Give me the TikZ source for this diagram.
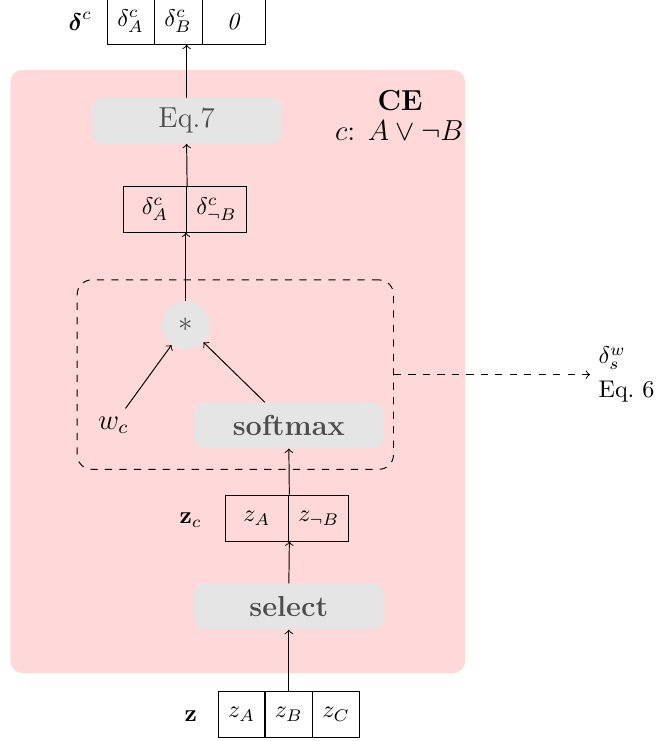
\documentclass[tikz,border=0pt]{standalone}
\usepackage{amsmath}
\usepackage{amsfonts}
\usepackage{tikz}

\begin{document}
\begin{tikzpicture}[
    cell/.style={draw,minimum height=0.67cm,inner sep=0pt},
    op/.style={fill=gray!20,rounded corners=4pt,text=black!70,font=\large,
      minimum width=2.76cm,minimum height=0.66cm}]
    \useasboundingbox (0,0) rectangle (9.72,-10.80);
    \fill[red!15,rounded corners=5pt] (0.15,-1.02) rectangle (6.78,-9.81);
    % output vector
    \node (dclab) at (1.17,-0.31) {$\boldsymbol{\delta}^c$};
    \node[cell,minimum width=0.685cm] (dcA) at (1.903,-0.31) {$\delta^c_A$};
    \node[cell,minimum width=0.70cm] (dcB) at (2.595,-0.31) {$\delta^c_B$};
    \node[cell,minimum width=0.918cm] (dc0) at (3.404,-0.31) {\textit{0}};
    % CE block
    \node[op] (eq7) at (2.72,-1.76) {Eq.7};
    \node[font=\large] (ce) at (5.83,-1.46) {\textbf{CE}};
    \node[font=\large] (rule) at (5.82,-1.90) {$c$: $A\vee\neg B$};
    \node[cell,minimum width=0.92cm] (dA) at (2.26,-3.05) {$\delta^c_A$};
    \node[cell,minimum width=0.87cm] (dnB) at (3.155,-3.05) {$\delta^c_{\neg B}$};
    \node[draw,dashed,rounded corners=6pt,minimum width=4.61cm,minimum height=2.76cm] (wbox) at (3.43,-5.46) {};
    \node[circle,fill=gray!20,text=black!70,minimum size=0.70cm,inner sep=0pt,font=\large] (mul) at (2.71,-4.74) {$*$};
    \node[font=\large] (wc) at (1.65,-6.20) {$w_c$};
    \node[op,font=\large\bfseries] (sm) at (4.21,-6.20) {softmax};
    \node[anchor=west,align=left] (out) at (8.60,-5.46) {$\delta^w_s$\\[2pt]Eq.~6};
    \node (zclab) at (2.78,-7.58) {$\mathbf{z}_c$};
    \node[cell,minimum width=0.93cm] (zcA) at (3.745,-7.55) {$z_A$};
    \node[cell,minimum width=0.87cm] (zcnB) at (4.645,-7.55) {$z_{\neg B}$};
    \node[op,font=\large\bfseries] (selct) at (4.21,-8.84) {select};
    % input vector
    \node (zlab) at (2.78,-10.44) {$\mathbf{z}$};
    \node[cell,minimum width=0.685cm] (zA) at (3.52,-10.41) {$z_A$};
    \node[cell,minimum width=0.70cm] (zB) at (4.21,-10.41) {$z_B$};
    \node[cell,minimum width=0.685cm] (zC) at (4.90,-10.41) {$z_C$};
    \draw[->] (zB.north) -- (selct.south);
    \draw[->] (selct.north) -- (zcA.south east);
    \draw[->] (zcA.north east) -- (sm.south);
    \draw[->] (wc) -- (mul);
    \draw[->] ([xshift=-0.35cm]sm.north) -- (mul);
    \draw[->] (mul.north) -- (mul.north |- dA.south);
    \draw[->] (dA.north east) -- (eq7.south);
    \draw[->] (eq7.north) -- (eq7.north |- dcB.south);
    \draw[->,dashed] (wbox.east) -- (out.west);
  \end{tikzpicture}
\end{document}
